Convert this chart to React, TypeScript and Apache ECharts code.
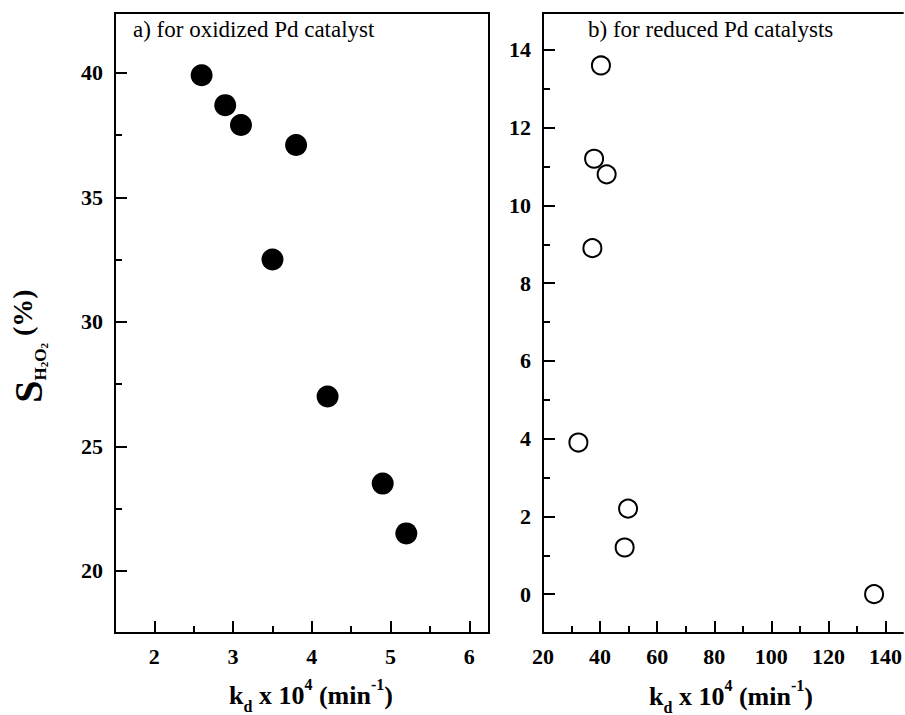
import React, { useEffect, useRef } from "react";
import * as echarts from "echarts";

// ---- data ----
const oxidizedKd = [2.6, 2.9, 3.1, 3.8, 3.5, 4.2, 4.9, 5.2];
const oxidizedS = [39.9, 38.7, 37.9, 37.1, 32.5, 27.0, 23.5, 21.5];

const reducedKd = [40.3, 37.9, 42.3, 37.3, 32.4, 49.8, 48.6, 136];
const reducedS = [13.6, 11.2, 10.8, 8.9, 3.9, 2.2, 1.2, 0];

// ---- tick values ----
const leftXMajor = [2, 3, 4, 5, 6];
const leftXMinor = [2.5, 3.5, 4.5, 5.5];
const leftYMajor = [20, 25, 30, 35, 40];
const leftYMinor = [22.5, 27.5, 32.5, 37.5];
const rightXMajor = [20, 40, 60, 80, 100, 120, 140];
const rightXMinor = [30, 50, 70, 90, 110, 130];
const rightYMajor = [0, 2, 4, 6, 8, 10, 12, 14];
const rightYMinor = [1, 3, 5, 7, 9, 11, 13];

const titleA = "a) for oxidized Pd catalyst";
const titleB = "b) for reduced Pd catalysts";

const FONT = "Liberation Serif, Times New Roman, serif";

function axisPair(
  gridIndex: number,
  min: number,
  max: number,
  majors: number[],
  minors: number[],
  position: string
) {
  const base = {
    type: "value",
    gridIndex,
    min,
    max,
    position,
    offset: 0,
    splitLine: { show: false },
  };
  return [
    {
      ...base,
      axisLine: { show: true, onZero: false, lineStyle: { color: "#000", width: 2 } },
      axisTick: {
        show: true,
        inside: true,
        length: 12,
        customValues: majors,
        lineStyle: { color: "#000", width: 2 },
      },
      axisLabel: {
        show: true,
        customValues: majors,
        fontFamily: FONT,
        fontSize: 22,
        fontWeight: "bold",
        color: "#000",
        margin: 12,
        showMinLabel: true,
        showMaxLabel: true,
      },
    },
    {
      ...base,
      axisLine: { show: false, onZero: false },
      axisTick: {
        show: true,
        inside: true,
        length: 7,
        customValues: minors,
        lineStyle: { color: "#000", width: 2 },
      },
      axisLabel: { show: false },
    },
  ];
}

const xTitleRich = {
  b: { fontFamily: FONT, fontSize: 26, fontWeight: "bold", color: "#000", lineHeight: 38, verticalAlign: "middle" },
  sub: { fontFamily: FONT, fontSize: 16, fontWeight: "bold", color: "#000", lineHeight: 16, verticalAlign: "bottom" },
  sup: { fontFamily: FONT, fontSize: 16, fontWeight: "bold", color: "#000", lineHeight: 21, verticalAlign: "top" },
};
const xTitleText = "{b|k}{sub|d}{b| x 10}{sup|4}{b| (min}{sup|-1}{b|)}";

const yTitleRich = {
  s: { fontFamily: FONT, fontSize: 40, fontWeight: "bold", color: "#000", lineHeight: 41, verticalAlign: "top" },
  ho: { fontFamily: FONT, fontSize: 17, fontWeight: "bold", color: "#000", lineHeight: 24, verticalAlign: "bottom" },
  two: { fontFamily: FONT, fontSize: 11, fontWeight: "bold", color: "#000", lineHeight: 15, verticalAlign: "bottom" },
  p: { fontFamily: FONT, fontSize: 28, fontWeight: "bold", color: "#000", lineHeight: 39, verticalAlign: "top" },
};
const yTitleText = "{s|S}{ho|H}{two|2}{ho|O}{two|2}{p| (%)}";

export default function App() {
  const ref = useRef<HTMLDivElement>(null);

  useEffect(() => {
    if (!ref.current) return;
    const chart = echarts.init(ref.current, undefined, { renderer: "svg" });

    const rightXMax = 146.1;
    const [lx, lxm] = axisPair(0, 1.5, 6.25, leftXMajor, leftXMinor, "bottom");
    const [ly, lym] = axisPair(0, 17.5, 42.4, leftYMajor, leftYMinor, "left");
    const [rx, rxm] = axisPair(1, 20, rightXMax, rightXMajor, rightXMinor, "bottom");
    const [ry, rym] = axisPair(1, -1, 14.95, rightYMajor, rightYMinor, "left");
    const rTop = {
      type: "value",
      gridIndex: 1,
      min: 20,
      max: rightXMax,
      position: "top",
      offset: 0,
      splitLine: { show: false },
      axisLine: { show: true, onZero: false, lineStyle: { color: "#000", width: 2 } },
      axisTick: { show: false },
      axisLabel: { show: false },
    };

    const option: any = {
      animation: false,
      backgroundColor: "#fff",
      grid: [
        { left: 115, top: 13, width: 374, height: 620, show: true, borderColor: "#000", borderWidth: 2, backgroundColor: "transparent" },
        { left: 543, top: 13, right: 0, height: 620, show: false },
      ],
      xAxis: [lx, lxm, rx, rxm, rTop],
      yAxis: [ly, lym, ry, rym],
      series: [
        {
          type: "scatter",
          xAxisIndex: 0,
          yAxisIndex: 0,
          symbol: "circle",
          symbolSize: 22,
          itemStyle: { color: "#000", opacity: 1 },
          data: oxidizedKd.map((x, i) => [x, oxidizedS[i]]),
        },
        {
          type: "scatter",
          xAxisIndex: 2,
          yAxisIndex: 2,
          symbol: "circle",
          symbolSize: 18,
          itemStyle: { color: "#fff", borderColor: "#000", borderWidth: 2, opacity: 1 },
          data: reducedKd.map((x, i) => [x, reducedS[i]]),
        },
      ],
      graphic: [
        {
          type: "text",
          x: 133,
          y: 29,
          style: { text: titleA, font: `23px ${FONT}`, fill: "#000", align: "left", verticalAlign: "middle" },
        },
        {
          type: "text",
          x: 588,
          y: 29,
          style: { text: titleB, font: `23px ${FONT}`, fill: "#000", align: "left", verticalAlign: "middle" },
        },
        {
          type: "text",
          x: 311,
          y: 695,
          style: { text: xTitleText, rich: xTitleRich, align: "center", verticalAlign: "middle", fill: "#000" },
        },
        {
          type: "text",
          x: 731,
          y: 696,
          style: { text: xTitleText, rich: xTitleRich, align: "center", verticalAlign: "middle", fill: "#000" },
        },
        {
          type: "text",
          x: 28.5,
          y: 346,
          rotation: Math.PI / 2,
          style: { text: yTitleText, rich: yTitleRich, align: "center", verticalAlign: "middle", fill: "#000" },
        },
      ],
    };

    chart.setOption(option);
    return () => chart.dispose();
  }, []);

  return (
    <div
      ref={ref}
      style={{ position: "fixed", left: 0, top: 0, width: 905, height: 715, background: "#fff" }}
    />
  );
}
